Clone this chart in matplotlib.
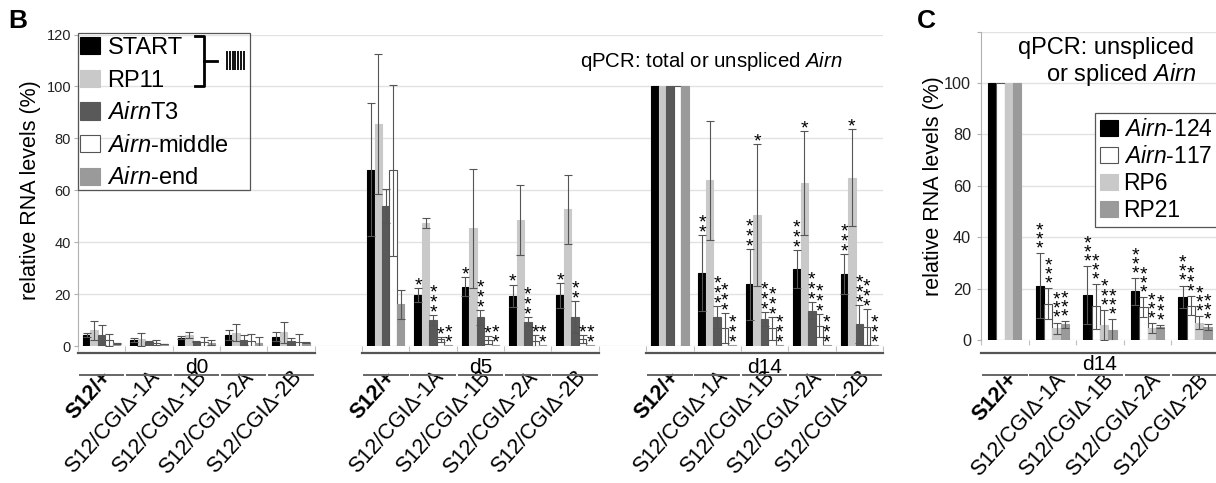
import numpy as np
import matplotlib.pyplot as plt
from matplotlib.patches import Rectangle
from matplotlib.transforms import blended_transform_factory, ScaledTranslation

plt.rcParams['font.family'] = ['Liberation Sans', 'DejaVu Sans']
plt.rcParams['mathtext.fontset'] = 'custom'
plt.rcParams['mathtext.rm'] = 'Liberation Sans'
plt.rcParams['mathtext.it'] = 'Liberation Sans:italic'

# ---- data -------------------------------------------------------------
days_b = ['d0', 'd5', 'd14']
genotypes = ['S12/+', 'S12/CGIΔ-1A', 'S12/CGIΔ-1B', 'S12/CGIΔ-2A', 'S12/CGIΔ-2B']

series_b = ['START', 'RP11', '$\\mathit{Airn}$T3', '$\\mathit{Airn}$-middle', '$\\mathit{Airn}$-end']
# 15 values each: d0 (5 genotypes), d5 (5), d14 (5)
start = [4.2, 2.3, 3.2, 4.2, 3.6, 68.0, 19.6, 22.8, 19.4, 19.6, 100, 28.2, 23.8, 29.7, 27.6]
start_err = [0.9, 0.9, 0.6, 2.0, 1.7, 25.6, 2.6, 3.6, 4.3, 4.8, 0, 14.7, 13.7, 7.2, 7.7]
rp11 = [6.0, 2.6, 4.2, 5.1, 5.3, 85.6, 47.4, 45.3, 48.5, 52.6, 100, 63.8, 50.4, 62.8, 64.9]
rp11_err = [3.7, 2.5, 1.2, 3.2, 4.1, 27.0, 2.0, 23.0, 13.5, 13.4, 0, 22.8, 27.3, 19.9, 18.7]
airn_t3 = [4.2, 1.7, 1.7, 2.3, 1.9, 54.0, 10.0, 11.0, 9.4, 11.2, 100, 11.3, 10.4, 13.6, 8.5]
airn_t3_err = [3.8, 0.3, 0.3, 1.9, 1.3, 6.5, 2.0, 2.8, 1.7, 6.3, 0, 4.2, 2.8, 3.2, 7.3]
airn_mid = [2.3, 1.3, 1.5, 1.9, 1.5, 67.7, 2.6, 2.3, 2.0, 2.6, 100, 6.8, 6.8, 7.8, 7.4]
airn_mid_err = [2.2, 1.0, 1.8, 2.6, 3.0, 33.0, 1.0, 1.5, 2.2, 1.6, 0, 5.8, 4.5, 4.4, 7.0]
airn_end = [1.0, 0.8, 1.3, 1.3, 1.3, 16.0, 0.3, 0.3, 0.3, 0.3, 100, 0.5, 0.5, 0.3, 0.5]
airn_end_err = [0.3, 0.1, 1.0, 2.3, 0.2, 5.5, 0, 0, 0, 0, 0, 0, 0, 0, 0]

start_sig = [0]*5 + [0, 1, 1, 1, 1] + [0, 2, 3, 3, 3]
rp11_sig = [0]*5 + [0, 0, 0, 0, 0] + [0, 0, 1, 1, 1]
airn_t3_sig = [0]*5 + [0, 3, 3, 3, 2] + [0, 3, 3, 3, 3]
airn_mid_sig = [0]*5 + [0, 1, 1, 1, 1] + [0, 3, 3, 3, 3]
airn_end_sig = [0]*5 + [0, 2, 2, 2, 2] + [0, 3, 3, 3, 3]

days_c = ['d14']
series_c = ['$\\mathit{Airn}$-124', '$\\mathit{Airn}$-117', 'RP6', 'RP21']
airn124 = [100, 21.2, 17.6, 19.0, 16.9]
airn124_err = [0, 12.5, 11.2, 5.2, 4.3]
airn117 = [100, 14.1, 13.1, 12.8, 13.3]
airn117_err = [0, 6.0, 8.7, 3.8, 3.7]
rp6 = [100, 4.6, 5.9, 4.6, 6.8]
rp6_err = [0, 2.2, 5.9, 1.9, 2.4]
rp21 = [100, 6.1, 3.9, 5.2, 5.0]
rp21_err = [0, 1.4, 4.2, 0.6, 1.1]
airn124_sig = [0, 3, 3, 3, 3]
airn117_sig = [0, 3, 3, 3, 3]
rp6_sig = [0, 3, 3, 3, 3]
rp21_sig = [0, 3, 3, 3, 3]

BLACK, LIGHT, DARK, WHITE, MID = '#000000', '#c9c9c9', '#595959', '#ffffff', '#9a9a9a'

fig = plt.figure(figsize=(12.16, 4.83), dpi=100)
axb = fig.add_axes([0.0641, 0.2836, 0.6620, 0.6449])
axc = fig.add_axes([0.8067, 0.2961, 0.1957, 0.6383])


def px_y(ax, px):
    return px / (ax.get_position().height * fig.get_figheight() * fig.dpi)


def draw_bars(ax, pos, data, colors, width, star_gap, star_base):
    n = len(data)
    for k, (vals, errs, sig) in enumerate(data):
        x = pos + (k - (n - 1) / 2) * width
        ec = '#555555' if colors[k] == WHITE else colors[k]
        ax.bar(x, vals, width, color=colors[k], edgecolor=ec, linewidth=0.8, zorder=2)
        errs = np.array(errs, float)
        m = errs > 0
        ax.errorbar(x[m], np.array(vals)[m], yerr=errs[m], fmt='none', ecolor='#555555',
                    elinewidth=0.8, capsize=3, capthick=0.8, zorder=3)
        for xi, v, e, s in zip(x, vals, errs, sig):
            for j in range(s):
                ax.annotate('*', (xi, v + e), xytext=(0, star_base + j * star_gap),
                            textcoords='offset points', ha='center', va='center',
                            fontsize=14, zorder=4)


def group_axis(ax, start, n, label, dark, text, seg):
    tr = blended_transform_factory(ax.transData, ax.transAxes)
    ax.vlines([start - 0.5 + k for k in range(n + 1)], -px_y(ax, 5), 0, transform=tr,
              colors='#c0c0c0', lw=0.8, clip_on=False)
    ax.plot([start - 0.5, start + n - 0.5], [-px_y(ax, dark)] * 2, transform=tr,
            color='#555555', lw=1.6, clip_on=False)
    ax.text(start + (n - 1) / 2, -px_y(ax, text), label, transform=tr, ha='center',
            va='center', fontsize=15)
    for j in range(n):
        ax.plot([start + j - 0.46, start + j + 0.46], [-px_y(ax, seg)] * 2, transform=tr,
                color='#666666', lw=1.4, clip_on=False)


def style_axis(ax, ticksize, top_label):
    ax.set_ylim(0, 120)
    ax.set_yticks(range(0, 121, 20))
    ax.set_yticklabels([str(t) if (t < 120 or top_label) else '' for t in range(0, 121, 20)])
    ax.grid(axis='y', color='#e2e2e2', lw=1.0, zorder=0)
    ax.set_axisbelow(True)
    for s in ['top', 'right', 'bottom']:
        ax.spines[s].set_visible(False)
    ax.spines['left'].set_color('#b0b0b0')
    ax.tick_params(axis='y', length=3, color='#b0b0b0', labelsize=ticksize,
                   labelcolor='#222222', pad=2)
    ax.set_ylabel('relative RNA levels (%)', fontsize=15.5)


def x_labels(ax, pos, labels, pad, dx):
    ax.set_xticks(pos)
    ax.set_xticklabels(labels, rotation=48, ha='right', va='top', rotation_mode='anchor',
                       fontsize=15.5)
    ax.tick_params(axis='x', length=0, pad=pad)
    off = ScaledTranslation(dx / 100, 0, fig.dpi_scale_trans)
    for i, lab in enumerate(ax.get_xticklabels()):
        lab.set_transform(lab.get_transform() + off)
        if i % len(genotypes) == 0:
            lab.set_fontweight('bold')


# ---- panel B ----------------------------------------------------------
pos_b = np.array([d * 6 + g for d in range(len(days_b)) for g in range(len(genotypes))], float)
data_b = [(start, start_err, start_sig), (rp11, rp11_err, rp11_sig),
          (airn_t3, airn_t3_err, airn_t3_sig), (airn_mid, airn_mid_err, airn_mid_sig),
          (airn_end, airn_end_err, airn_end_sig)]
colors_b = [BLACK, LIGHT, DARK, WHITE, MID]
draw_bars(axb, pos_b, data_b, colors_b, 0.158, 7.2, 1.5)
axb.set_xlim(-0.5, 16.5)
style_axis(axb, 10.5, True)
axb.yaxis.labelpad = 4
x_labels(axb, pos_b, genotypes * 3, 15, -1)
for d, day in enumerate(days_b):
    group_axis(axb, d * 6, len(genotypes), day, 7, 21, 29)

axb.text(0.95, 0.912, 'qPCR: total or unspliced $\\mathit{Airn}$', transform=axb.transAxes,
         ha='right', va='center', fontsize=14.7)

handles = [Rectangle((0, 0), 1, 1, facecolor=c, edgecolor='#555555' if c == WHITE else c, lw=0.8)
           for c in colors_b]
axb.legend(handles, series_b, loc='upper left', bbox_to_anchor=(0.0, 1.0), frameon=False,
           fontsize=17, handlelength=0.85, handleheight=0.75, handletextpad=0.3,
           labelspacing=0.45, borderpad=0.1, borderaxespad=0.0)
axb.add_patch(Rectangle((0, 0.5), 0.2137, 0.505, transform=axb.transAxes, fill=False,
                        edgecolor='#555555', lw=0.9, clip_on=False, zorder=5))
# bracket + striped icon
bx = [0.145, 0.157, 0.157, 0.145]
by = [0.995, 0.995, 0.835, 0.835]
axb.plot(bx, by, transform=axb.transAxes, color='black', lw=2, clip_on=False, zorder=6)
axb.plot([0.157, 0.173], [0.915, 0.915], transform=axb.transAxes, color='black', lw=2,
         clip_on=False, zorder=6)
axb.vlines(np.linspace(0.185, 0.206, 7), 0.885, 0.948, transform=axb.transAxes,
           colors='black', lw=1.3, zorder=6)

# ---- panel C ----------------------------------------------------------
pos_c = np.arange(len(genotypes), dtype=float)
data_c = [(airn124, airn124_err, airn124_sig), (airn117, airn117_err, airn117_sig),
          (rp6, rp6_err, rp6_sig), (rp21, rp21_err, rp21_sig)]
colors_c = [BLACK, WHITE, LIGHT, MID]
draw_bars(axc, pos_c, data_c, colors_c, 0.175, 6.5, 3.0)
axc.set_xlim(-0.5, 4.5)
style_axis(axc, 11.7, False)
axc.yaxis.labelpad = 0
axc.tick_params(axis='y', pad=4)
x_labels(axc, pos_c, genotypes, 21, 2)
group_axis(axc, 0, len(genotypes), days_c[0], 12.7, 25, 35)

axc.text(0.895, 0.947, 'qPCR: unspliced', transform=axc.transAxes, ha='right', va='center',
         fontsize=17)
axc.text(0.905, 0.86, 'or spliced $\\mathit{Airn}$', transform=axc.transAxes, ha='right',
         va='center', fontsize=17)
handles_c = [Rectangle((0, 0), 1, 1, facecolor=c, edgecolor='#555555' if c == WHITE else c, lw=0.8)
             for c in colors_c]
leg = axc.legend(handles_c, series_c, loc='upper left', bbox_to_anchor=(0.479, 0.735),
                 fontsize=16.5, handlelength=0.8, handleheight=0.7, handletextpad=0.25,
                 labelspacing=0.18, borderpad=0.2, borderaxespad=0, fancybox=False,
                 framealpha=1)
leg.get_frame().set_edgecolor('#555555')
leg.get_frame().set_linewidth(0.9)

fig.text(0.0066, 0.943, 'B', fontsize=19, fontweight='bold', va='baseline')
fig.text(0.754, 0.943, 'C', fontsize=19, fontweight='bold', va='baseline')

fig.savefig('out.png', dpi=100)
